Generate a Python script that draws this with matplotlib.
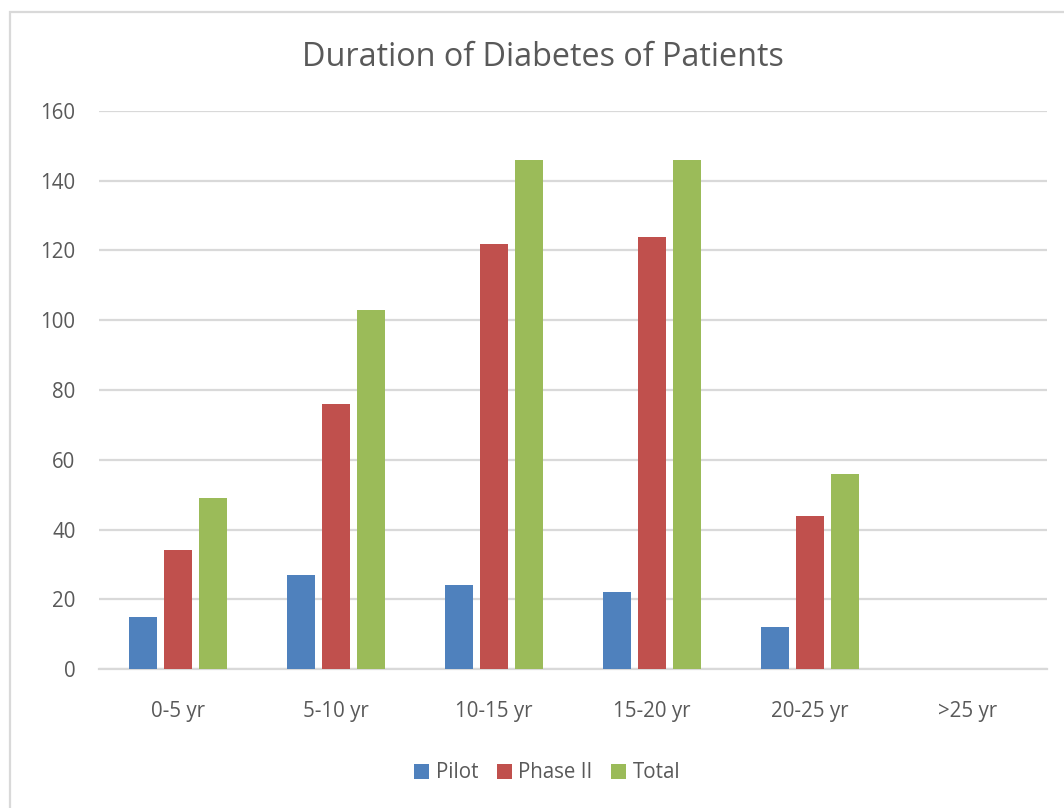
import numpy as np
import matplotlib
matplotlib.use("Agg")
from matplotlib import pyplot as plt
from matplotlib.patches import Rectangle

categories = ["0-5 yr", "5-10 yr", "10-15 yr", "15-20 yr", "20-25 yr", ">25 yr"]
pilot = [15, 27, 24, 22, 12, 0]
phase2 = [34, 76, 122, 124, 44, 0]
total = [49, 103, 146, 146, 56, 0]

series = [("Pilot", pilot, "#4F81BD"),
          ("Phase II", phase2, "#C0504D"),
          ("Total", total, "#9BBB59")]

text_col = "#595959"
grid_col = "#D9D9D9"

plt.rcParams["font.family"] = ["Open Sans", "DejaVu Sans"]


def main():
    fig = plt.figure(figsize=(10.64, 8.08), dpi=100)

    # chart frame, runs off the right and bottom edges
    fig.patches.append(Rectangle((10 / 1064, -0.05), 1.1, 0.05 + (808 - 12.5) / 808,
                                 transform=fig.transFigure, fill=False,
                                 edgecolor=grid_col, linewidth=1.6))

    ax = fig.add_axes([99 / 1064, (808 - 669) / 808, 948 / 1064, 558 / 808])
    x = np.arange(len(categories))
    width = 0.177
    step = 0.222
    for i, (name, vals, col) in enumerate(series):
        ax.bar(x + (i - 1) * step, vals, width, color=col, label=name, zorder=3)

    ax.set_xlim(-0.5, len(categories) - 0.5)
    ax.set_ylim(0, 160)
    ax.set_yticks(range(0, 161, 20))
    ax.set_xticks(x)
    ax.set_xticklabels(categories)
    ax.yaxis.grid(True, color=grid_col, linewidth=1.6, zorder=0)
    for s in ["top", "right", "left"]:
        ax.spines[s].set_visible(False)
    ax.spines["bottom"].set_color(grid_col)
    ax.spines["bottom"].set_linewidth(1.6)
    ax.tick_params(axis="both", length=0, labelsize=14.8, labelcolor=text_col)
    ax.tick_params(axis="y", pad=17)
    ax.tick_params(axis="x", pad=23)

    fig.text(543 / 1064, (808 - 58) / 808, "Duration of Diabetes of Patients",
             ha="center", va="center", fontsize=23.3, color=text_col)

    fig.legend(loc="center", bbox_to_anchor=(547 / 1064, (808 - 773) / 808),
               ncol=3, frameon=False, fontsize=14.8, labelcolor=text_col,
               handlelength=0.75, handleheight=0.75, handletextpad=0.3,
               columnspacing=0.9)

    fig.savefig("out.png", dpi=100)


if __name__ == "__main__":
    main()
